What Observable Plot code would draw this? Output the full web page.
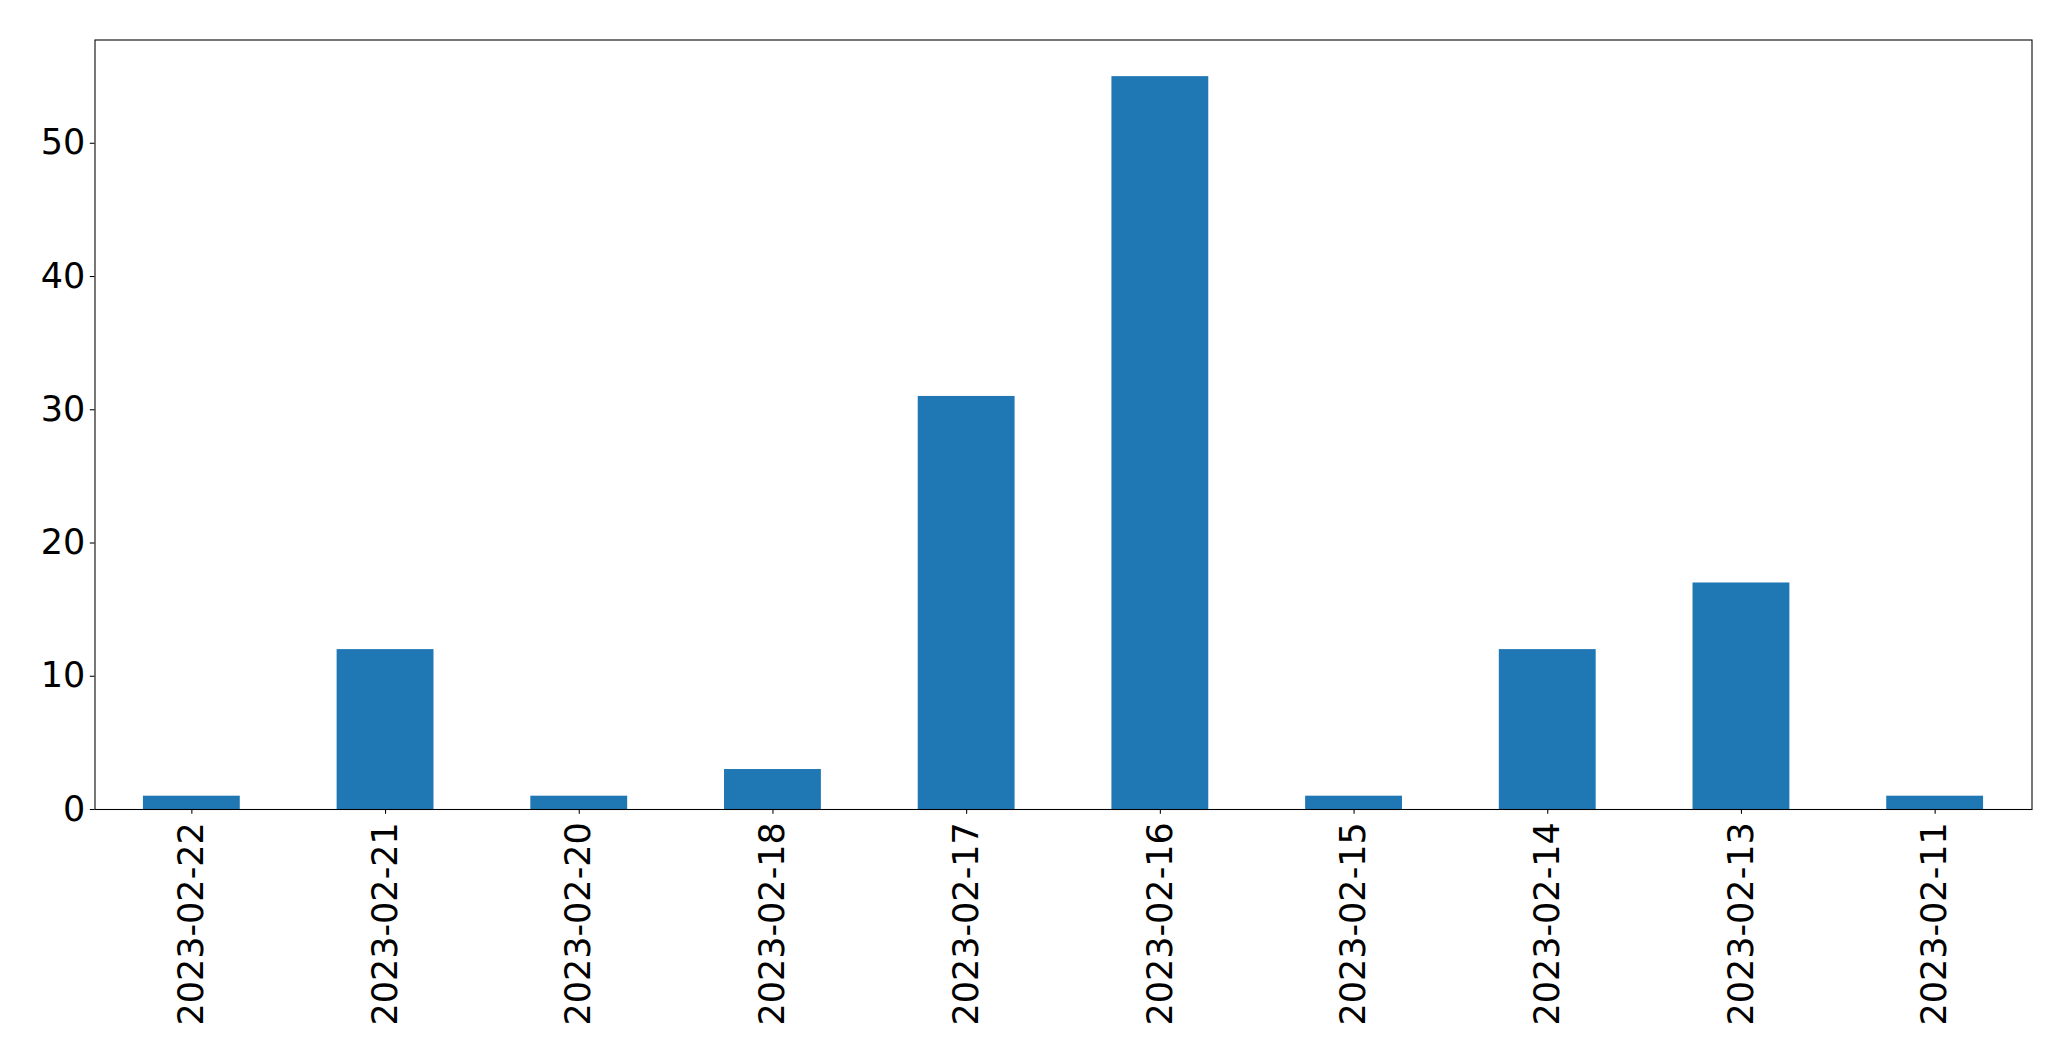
<!DOCTYPE html>
<html>
<head>
<meta charset="utf-8">
<script src="https://cdn.jsdelivr.net/npm/d3@7"></script>
<script src="https://cdn.jsdelivr.net/npm/@observablehq/plot@0.6"></script>
<style>
  html, body { margin: 0; padding: 0; background: #fff; }
  #chart svg { display: block; }
</style>
</head>
<body>
<div id="chart"></div>
<script>
const dates = ["2023-02-22","2023-02-21","2023-02-20","2023-02-18","2023-02-17","2023-02-16","2023-02-15","2023-02-14","2023-02-13","2023-02-11"];
const counts = [1, 12, 1, 3, 31, 55, 1, 12, 17, 1];
const yTicks = [0, 10, 20, 30, 40, 50];

const data = dates.map((d, i) => ({date: d, count: counts[i]}));

const chart = Plot.plot({
  width: 2071,
  height: 1061,
  marginLeft: 94.5,
  marginRight: 39.5,
  marginTop: 39.5,
  marginBottom: 252,
  style: {fontFamily: "DejaVu Sans", fontSize: "35px", color: "#000", background: "#fff"},
  x: {type: "band", domain: dates, paddingInner: 0.5, paddingOuter: 0.25, align: 0.5, round: false, label: null},
  y: {domain: [0, 57.75], label: null},
  marks: [
    Plot.barY(data, {x: "date", y: "count", fill: "#1f77b4"}),
    Plot.axisY({ticks: yTicks, tickSize: 4.7, tickPadding: 5, strokeWidth: 1.07, stroke: "#000", fill: "#000", label: null}),
    Plot.axisX({tickRotate: -90, tickSize: 4.7, tickPadding: 8, strokeWidth: 1.07, stroke: "#000", fill: "#000", label: null}),
    Plot.frame({stroke: "#000", strokeWidth: 1.07})
  ]
});
document.getElementById("chart").appendChild(chart);
</script>
</body>
</html>
